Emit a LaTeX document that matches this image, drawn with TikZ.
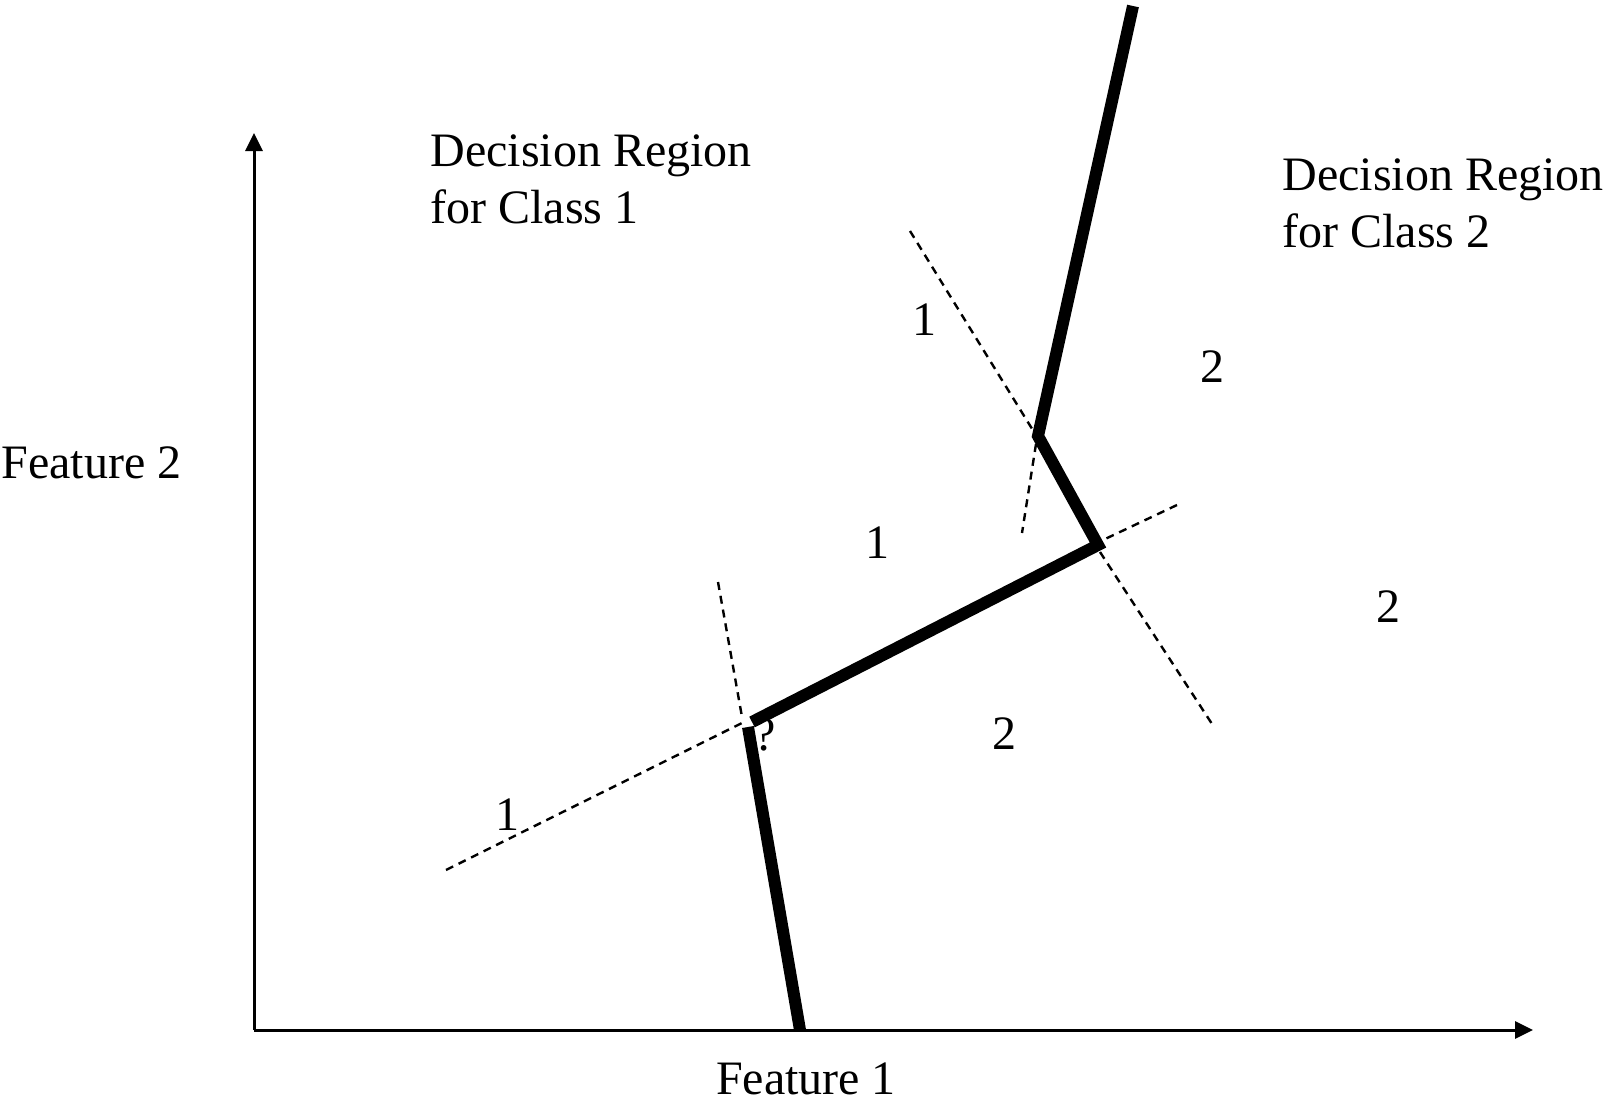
\documentclass[tikz,border=0pt]{standalone}
\usepackage{fontspec}
\setmainfont{Liberation Serif}
\usetikzlibrary{arrows.meta}
\begin{document}
\begin{tikzpicture}[x=0.5pt,y=-0.5pt,
  axis/.style={line width=1.5pt,-{Triangle[length=9pt,width=8.5pt]}},
  bound/.style={line width=6pt,line join=miter},
  sep/.style={line width=1.2pt,dash pattern=on 4pt off 3pt},
  lbl/.style={inner sep=0pt,font=\fontsize{24}{28.7}\selectfont},
  region/.style={lbl,align=left,anchor=north west}]
\useasboundingbox (0,0) rectangle (1608,1103);
% axes
\coordinate (O) at (254,1030);
\coordinate (ytop) at (254,133);
\coordinate (xend) at (1533,1030);
\draw[axis] (O) -- (ytop);
\draw[axis] (O) -- (xend);
% decision boundary vertices
\coordinate (b0) at (1133,6);
\coordinate (b1) at (1038,436);
\coordinate (b2) at (1098,545);
\coordinate (b3) at (752,722);
\coordinate (b4) at (748,727);
\coordinate (b5) at (800,1030);
\draw[bound] (b0) -- (b1) -- (b2) -- (b3);
\draw[bound] (b4) -- (b5);
% dashed bisectors
\coordinate (d1a) at (910,231);
\coordinate (d1b) at (1034,432);
\coordinate (d2a) at (1036,444);
\coordinate (d2b) at (1022,533);
\coordinate (d3a) at (1177,505);
\coordinate (d3b) at (1103,540);
\coordinate (d4a) at (1100,552);
\coordinate (d4b) at (1214,727);
\coordinate (d5a) at (718,582);
\coordinate (d5b) at (742,717);
\coordinate (d6a) at (446,870);
\coordinate (d6b) at (742,723);
\draw[sep] (d1a) -- (d1b);
\draw[sep] (d2a) -- (d2b);
\draw[sep] (d3a) -- (d3b);
\draw[sep] (d4a) -- (d4b);
\draw[sep] (d5a) -- (d5b);
\draw[sep] (d6a) -- (d6b);
% labels
\node[region] (r1) at (430,134) {Decision Region\\for Class 1};
\node[region] (r2) at (1282,158) {Decision Region\\for Class 2};
\node[lbl,anchor=west] (f2) at (1,463) {Feature 2};
\node[lbl] (f1) at (806,1079) {Feature 1};
\node[lbl] (n1) at (924,320) {1};
\node[lbl] (n2) at (1212,367) {2};
\node[lbl] (n3) at (877,543) {1};
\node[lbl] (n4) at (1388,607) {2};
\node[lbl] (n5) at (1004,734) {2};
\node[lbl] (n6) at (507,815) {1};
\node[lbl] (q) at (765,735) {?};
\end{tikzpicture}
\end{document}
